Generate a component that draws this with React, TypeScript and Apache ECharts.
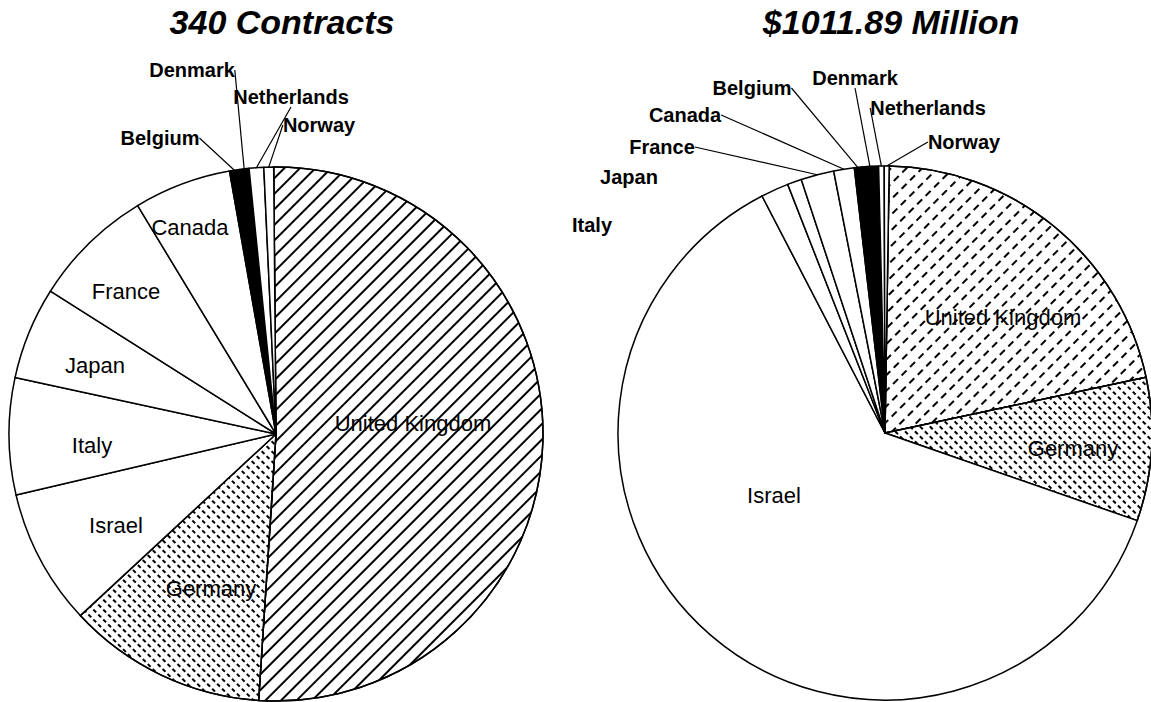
import React, { useEffect, useRef } from 'react';
import * as echarts from 'echarts';

// ---- data ----
const countries = ['United Kingdom', 'Germany', 'Israel', 'Italy', 'Japan', 'France', 'Canada', 'Belgium', 'Denmark', 'Netherlands', 'Norway'];
const contracts = [174, 41, 28, 24, 19, 25, 20, 2, 2, 3, 2];
const millions = [216.5, 87.8, 628.0, 17.0, 8.7, 20.2, 12.6, 4.2, 10.5, 3.4, 2.99];
const titles = ['340 Contracts', '$1011.89 Million'];
const leftOutside = ['Belgium', 'Denmark', 'Netherlands', 'Norway'];
const rightOutside = ['Italy', 'Japan', 'France', 'Canada', 'Belgium', 'Denmark', 'Netherlands', 'Norway'];
const noLeader = ['Italy', 'Japan'];

// ---- layout (label anchor points, pixels) ----
const leftLabelXY: Record<string, number[]> = {
  'United Kingdom': [413, 423], Germany: [211, 588], Israel: [116, 525], Italy: [92, 445],
  Japan: [95, 365], France: [126, 291], Canada: [190, 227],
  Belgium: [160, 138], Denmark: [192, 70], Netherlands: [291, 97], Norway: [319, 125],
};
const rightLabelXY: Record<string, number[]> = {
  'United Kingdom': [1003, 317], Germany: [1073, 448], Israel: [774, 495], Italy: [592, 225],
  Japan: [629, 177], France: [662, 147], Canada: [685, 115], Belgium: [752, 88],
  Denmark: [855, 78], Netherlands: [928, 108], Norway: [964, 142],
};

const FONT = '"Liberation Sans", Arial, Helvetica, sans-serif';

const solidHatch = { symbol: 'rect', symbolSize: 1, color: '#000', dashArrayX: [1, 0], dashArrayY: [1.3, 8.7], rotation: -Math.PI / 4 };
const dashHatch = { symbol: 'rect', symbolSize: 1, color: '#000', dashArrayX: [7, 5], dashArrayY: [1.4, 8.6], rotation: -Math.PI / 4 };
const dashDots = { symbol: 'rect', symbolSize: 1, color: '#000', dashArrayX: [3.5, 3], dashArrayY: [1.4, 5], rotation: Math.PI / 4 };

function itemStyleFor(name: string, side: number) {
  const base: any = { color: '#fff', borderColor: '#000', borderWidth: 1.5 };
  if (name === 'United Kingdom') base.decal = side === 0 ? solidHatch : dashHatch;
  if (name === 'Germany') base.decal = dashDots;
  if (name === 'Belgium' || name === 'Denmark') base.color = '#000';
  return base;
}

function buildData(values: number[], outside: string[], side: number) {
  return countries.map((name, i) => {
    const isOut = outside.includes(name);
    return {
      name,
      value: values[i],
      itemStyle: itemStyleFor(name, side),
      label: isOut
        ? { position: 'outside', fontSize: 20, fontWeight: 'bold', color: '#000', fontFamily: FONT }
        : { position: 'inside', fontSize: 22, fontWeight: 'normal', color: '#000', fontFamily: FONT },
      labelLine: {
        show: isOut && !(side === 1 && noLeader.includes(name)),
        length: 10,
        length2: 0,
        smooth: false,
        lineStyle: { color: '#000', width: 1.2 },
      },
    };
  });
}

export default function App() {
  const ref = useRef<HTMLDivElement>(null);
  useEffect(() => {
    const chart = echarts.init(ref.current!, null, { renderer: 'svg' });
    const labelLayout = (p: any) => {
      const table = p.seriesIndex === 0 ? leftLabelXY : rightLabelXY;
      const pos = table[countries[p.dataIndex]];
      return { x: pos[0], y: pos[1], align: 'center', verticalAlign: 'middle' };
    };
    const common = {
      type: 'pie',
      radius: 267,
      clockwise: true,
      avoidLabelOverlap: false,
      silent: true,
      emphasis: { disabled: true },
      label: { show: true, formatter: '{b}', color: '#000', fontFamily: FONT },
      labelLayout,
    };
    const titleStyle = { fontSize: 34, fontStyle: 'italic', fontWeight: 'bold', color: '#000', fontFamily: FONT };
    chart.setOption({
      animation: false,
      backgroundColor: '#fff',
      title: [
        { text: titles[0], left: 282, top: 5, textAlign: 'center', padding: 0, textStyle: titleStyle },
        { text: titles[1], left: 891, top: 5, textAlign: 'center', padding: 0, textStyle: titleStyle },
      ],
      series: [
        { ...common, name: 'Contracts', center: [276, 434], startAngle: 90.5, data: buildData(contracts, leftOutside, 0) },
        { ...common, name: 'Millions', center: [885, 433], startAngle: 89.1, data: buildData(millions, rightOutside, 1) },
      ],
    });
    return () => chart.dispose();
  }, []);
  return (
    <div
      ref={ref}
      style={{ position: 'absolute', left: 0, top: 0, width: 1151, height: 702, background: '#fff' }}
    />
  );
}
